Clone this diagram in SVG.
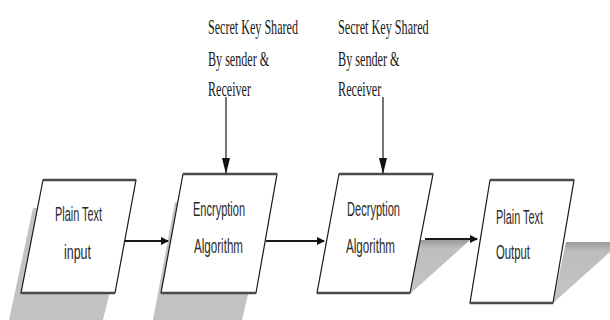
<svg xmlns="http://www.w3.org/2000/svg" width="610" height="320" viewBox="0 0 610 320">
  <style>
    .bg { fill: #ffffff; }
    .shadow { fill: #c2c2c2; }
    .box { fill: #ffffff; stroke: #1a1a1a; stroke-width: 1.2; }
    .edge { stroke: #4a4a4a; stroke-width: 2.6; fill: none; }
    .key { font-family: "Liberation Serif", "Times New Roman", serif; font-size: 20px; fill: #1a1a1a; }
    .lbl { font-family: "Liberation Sans", Arial, sans-serif; font-size: 20.5px; fill: #2a2a2a; }
    .conn { stroke: #1a1a1a; stroke-width: 2; fill: none; }
    .vline { stroke: #1a1a1a; stroke-width: 1.2; fill: none; }
  </style>
  <defs>
    <marker id="ah" markerWidth="8" markerHeight="8" refX="7" refY="4" orient="auto" markerUnits="userSpaceOnUse">
      <path d="M0,0 L8,4 L0,8 Z" fill="#111"/>
    </marker>
    <marker id="ahv" markerWidth="16" markerHeight="8" refX="15" refY="4" orient="auto" markerUnits="userSpaceOnUse">
      <path d="M0,0 L16,4 L0,8 Z" fill="#111"/>
    </marker>
    <linearGradient id="sg" x1="0" y1="0" x2="0" y2="1">
      <stop offset="0" stop-color="#9a9a9a"/>
      <stop offset="0.15" stop-color="#bdbdbd"/>
      <stop offset="1" stop-color="#c4c4c4"/>
    </linearGradient>
  </defs>
  <rect class="bg" x="0" y="0" width="610" height="320"/>

  <!-- shadows -->
  <polygon class="shadow" points="33,208 130,208 103,320 9,320"/>
  <polygon class="shadow" points="175,202 270,202 242,320 153,320"/>
  <polygon fill="url(#sg)" points="420,240 470,240 410,294"/>
  <polygon fill="url(#sg)" points="566,242 610,242 610,252 553,303"/>

  <!-- key labels -->
  <g id="key1" transform="translate(208,0) scale(0.605,1)">
    <text class="key" x="0" y="34">Secret Key Shared</text>
    <text class="key" x="0" y="66">By sender &amp;</text>
    <text class="key" x="0" y="96">Receiver</text>
  </g>
  <g id="key2" transform="translate(338,0) scale(0.61,1)">
    <text class="key" x="0" y="34">Secret Key Shared</text>
    <text class="key" x="0" y="66">By sender &amp;</text>
    <text class="key" x="0" y="96">Receiver</text>
  </g>

  <!-- nodes -->
  <g id="plain-input">
    <polygon class="box" points="43,180 136,180 115,293 21,293"/>
    <line class="edge" x1="43" y1="180" x2="136" y2="180"/>
    <line class="edge" x1="21" y1="293" x2="115" y2="293"/>
    <text class="lbl" x="55" y="221" textLength="47" lengthAdjust="spacingAndGlyphs">Plain Text</text>
    <text class="lbl" x="64" y="259" textLength="27" lengthAdjust="spacingAndGlyphs">input</text>
  </g>
  <g id="encryption">
    <polygon class="box" points="183,174 277,174 256,293 161,293"/>
    <line class="edge" x1="183" y1="174" x2="277" y2="174"/>
    <line class="edge" x1="161" y1="293" x2="256" y2="293"/>
    <text class="lbl" x="193" y="216" textLength="52" lengthAdjust="spacingAndGlyphs">Encryption</text>
    <text class="lbl" x="194" y="253" textLength="49" lengthAdjust="spacingAndGlyphs">Algorithm</text>
  </g>
  <g id="decryption">
    <polygon class="box" points="339,174 433,174 410,293 317,293"/>
    <line class="edge" x1="339" y1="174" x2="433" y2="174"/>
    <line class="edge" x1="317" y1="293" x2="410" y2="293"/>
    <text class="lbl" x="347" y="216" textLength="53" lengthAdjust="spacingAndGlyphs">Decryption</text>
    <text class="lbl" x="346" y="253" textLength="49" lengthAdjust="spacingAndGlyphs">Algorithm</text>
  </g>
  <g id="plain-output">
    <polygon class="box" points="490,180 574,180 553,303 470,303"/>
    <line class="edge" x1="490" y1="180" x2="574" y2="180"/>
    <line class="edge" x1="470" y1="303" x2="553" y2="303"/>
    <text class="lbl" x="496" y="224" textLength="47" lengthAdjust="spacingAndGlyphs">Plain Text</text>
    <text class="lbl" x="496" y="259" textLength="34" lengthAdjust="spacingAndGlyphs">Output</text>
  </g>

  <!-- connectors -->
  <g id="connectors">
    <line class="conn" x1="124" y1="241" x2="168" y2="241" marker-end="url(#ah)"/>
    <line class="conn" x1="266" y1="241" x2="324" y2="241" marker-end="url(#ah)"/>
    <line class="conn" x1="425" y1="239" x2="477" y2="239" stroke-width="3" marker-end="url(#ah)"/>
    <line class="vline" x1="226" y1="97" x2="226" y2="173" marker-end="url(#ahv)"/>
    <line class="vline" x1="383" y1="97" x2="383" y2="173" marker-end="url(#ahv)"/>
  </g>
</svg>
